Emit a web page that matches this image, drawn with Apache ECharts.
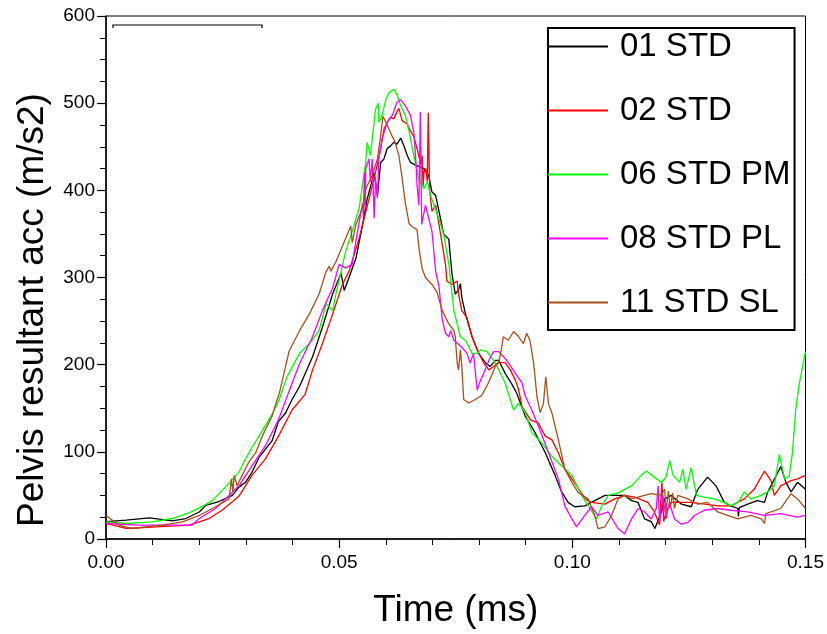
<!DOCTYPE html>
<html>
<head>
<meta charset="utf-8">
<script src="https://cdn.jsdelivr.net/npm/echarts@6/dist/echarts.min.js"></script>
<style>html,body{margin:0;padding:0;background:#fff}#c{width:827px;height:634px}</style>
</head>
<body>
<div id="c"></div>
<script>
// ---- data (time in s as on axis, value in m/s2) ----
const seriesNames = ['01 STD', '02 STD', '06 STD PM', '08 STD PL', '11 STD SL'];
const xTicks = [0, 0.05, 0.10, 0.15];
const yTicks = [0, 100, 200, 300, 400, 500, 600];

const s01 = [[0,20],[0.0043,21.6],[0.0093,24.2],[0.0114,22.7],[0.0142,20.8],[0.0171,23.5],[0.02,31],[0.0214,38.6],[0.0242,43],[0.0271,50],[0.0285,59.5],[0.0299,65],[0.0313,76.5],[0.0328,93.6],[0.0342,103],[0.0356,112.5],[0.037,135],[0.0385,144.5],[0.0399,160],[0.0415,175],[0.0443,209],[0.0464,243],[0.0486,281],[0.0504,305],[0.0511,285],[0.0536,322],[0.055,360],[0.056,390],[0.0575,420],[0.0582,394],[0.0589,432],[0.0596,436],[0.0603,448],[0.061,451],[0.0617,455],[0.0624,453],[0.0632,460],[0.0639,451],[0.0646,440],[0.0653,432],[0.0664,429],[0.0682,425],[0.0692,417],[0.0699,398],[0.0707,394],[0.0714,376],[0.0724,350],[0.0735,344],[0.0742,304],[0.0749,281],[0.0756,286],[0.076,293],[0.0763,277],[0.0771,258],[0.0785,232],[0.0799,213],[0.0814,202],[0.0824,198],[0.0835,205],[0.0842,205],[0.0856,190],[0.087,178],[0.0881,167],[0.0899,141],[0.092,122],[0.0942,99],[0.0963,73],[0.0977,54],[0.0991,42],[0.1005,37],[0.1027,38],[0.1048,44],[0.107,50],[0.1112,50],[0.1127,44],[0.1141,42],[0.1155,23],[0.1169,20],[0.1177,12],[0.1191,31],[0.1198,46],[0.1212,50],[0.1234,40],[0.1255,37],[0.1269,57],[0.129,71],[0.1308,61],[0.1326,42],[0.134,38],[0.1355,35],[0.1356,26],[0.1358,36],[0.1376,40],[0.1397,44],[0.1412,42],[0.1419,54],[0.1447,83],[0.1458,65],[0.1469,54],[0.1483,65],[0.15,57]];

const s02 = [[0,17.8],[0.0043,12.1],[0.0071,12.9],[0.0107,14],[0.0178,15.9],[0.02,19.7],[0.0221,23.5],[0.0249,33],[0.0285,49],[0.0313,73],[0.0342,92],[0.037,118],[0.0399,148],[0.0427,166],[0.0443,194],[0.0464,224],[0.0486,258],[0.0507,292],[0.0521,307],[0.0543,345],[0.0557,375],[0.0571,405],[0.0582,430],[0.0589,448],[0.0596,470],[0.0603,478],[0.061,484],[0.0617,482],[0.0624,490],[0.0628,494],[0.0635,480],[0.0646,476],[0.0653,468],[0.066,462],[0.0667,448],[0.0675,430],[0.0678,440],[0.068,405],[0.0682,421],[0.0686,425],[0.0689,410],[0.0691,489],[0.0694,400],[0.0699,376],[0.0707,383],[0.0714,361],[0.0721,338],[0.0728,315],[0.0731,296],[0.0742,292],[0.0753,296],[0.0756,281],[0.0763,262],[0.0774,254],[0.0785,232],[0.0796,217],[0.081,202],[0.0821,194],[0.0831,198],[0.0842,203],[0.0856,202],[0.0867,194],[0.0878,182],[0.0885,171],[0.0892,152],[0.091,137],[0.0927,133],[0.0942,118],[0.0956,114],[0.097,99],[0.0984,80],[0.0999,69],[0.1013,58],[0.1027,46],[0.1041,42],[0.107,40],[0.1091,46],[0.1112,50],[0.1134,48],[0.1162,42],[0.1176,31],[0.1187,16],[0.1192,65],[0.1196,20],[0.1201,31],[0.1212,42],[0.1255,42],[0.1312,38],[0.134,38],[0.1369,46],[0.139,57],[0.1412,78],[0.1426,67],[0.1433,50],[0.1447,61],[0.1469,67],[0.1483,69],[0.15,73]];

const s06 = [[0,19.7],[0.0043,17.8],[0.01,19.7],[0.0142,23.5],[0.0178,30],[0.0207,37.5],[0.0228,44],[0.0256,59.5],[0.0285,76.5],[0.0299,91.7],[0.0313,105],[0.0335,124],[0.0356,143],[0.037,158],[0.0388,186],[0.0415,213],[0.0436,224],[0.0457,239],[0.0472,270],[0.0486,262],[0.0493,281],[0.0514,330],[0.0528,353],[0.0543,380],[0.0557,432],[0.056,455],[0.0567,440],[0.0571,459],[0.0578,493],[0.0584,500],[0.0585,478],[0.0592,486],[0.06,504],[0.0607,512],[0.0617,516],[0.0624,510],[0.0632,497],[0.0642,486],[0.065,467],[0.066,440],[0.0671,413],[0.0682,402],[0.0689,410],[0.0696,394],[0.0707,378],[0.0717,362],[0.0724,350],[0.0735,316],[0.0746,262],[0.076,232],[0.0771,228],[0.0785,213],[0.0796,213],[0.0803,217],[0.0817,215],[0.0835,202],[0.0856,179],[0.0874,148],[0.0885,156],[0.0899,145],[0.0913,122],[0.0935,110],[0.0956,95],[0.0977,84],[0.0999,73],[0.102,50],[0.1038,35],[0.1052,23],[0.1063,38],[0.1077,50],[0.1098,53],[0.1127,61],[0.1148,73],[0.1159,78],[0.1176,71],[0.1191,65],[0.1201,71],[0.1209,90],[0.1216,73],[0.123,65],[0.1237,80],[0.1244,57],[0.1255,82],[0.1266,50],[0.1283,48],[0.1305,46],[0.1326,42],[0.134,38],[0.1355,42],[0.1369,54],[0.1383,46],[0.1405,50],[0.1419,54],[0.1433,61],[0.1444,97],[0.1455,69],[0.1465,72],[0.1472,99],[0.1479,149],[0.1487,179],[0.15,215]];

const s08 = [[0,17.8],[0.0071,16],[0.0142,16],[0.0185,16],[0.02,23.5],[0.0235,35],[0.0264,50],[0.0285,61],[0.0313,84],[0.0342,107],[0.037,137],[0.0393,170],[0.0415,201],[0.0443,232],[0.0464,262],[0.0486,288],[0.05,315],[0.0514,311],[0.0528,315],[0.0536,342],[0.055,385],[0.0552,370],[0.0554,420],[0.0556,380],[0.0557,425],[0.0564,436],[0.0567,410],[0.0571,436],[0.0575,368],[0.0578,413],[0.0582,391],[0.0585,436],[0.0592,459],[0.0603,478],[0.0614,486],[0.0624,501],[0.0632,504],[0.0642,497],[0.0653,486],[0.066,467],[0.0665,429],[0.0667,406],[0.0671,383],[0.0674,490],[0.0677,361],[0.0685,383],[0.0692,368],[0.0699,353],[0.0707,307],[0.0714,290],[0.0721,252],[0.0728,236],[0.0735,232],[0.0739,239],[0.0746,228],[0.0763,220],[0.0774,213],[0.0781,202],[0.0788,213],[0.0796,171],[0.0803,182],[0.081,190],[0.0821,205],[0.0831,215],[0.0842,215],[0.0853,209],[0.0863,202],[0.0878,190],[0.0892,179],[0.0899,164],[0.0913,148],[0.0927,130],[0.0949,99],[0.097,69],[0.0984,38],[0.0999,23],[0.1009,14],[0.1024,25],[0.1041,37],[0.1055,27],[0.1077,31],[0.1098,12],[0.1112,6],[0.1127,23],[0.1141,35],[0.1155,31],[0.1169,23],[0.118,35],[0.1184,61],[0.1187,19],[0.1194,50],[0.1201,23],[0.1208,42],[0.1219,23],[0.1234,17],[0.1248,19],[0.1262,27],[0.1283,33],[0.1312,35],[0.134,33],[0.1376,31],[0.1412,27],[0.1447,29],[0.1483,25],[0.15,27]];

const s11 = [[0,27],[0.0028,16],[0.0057,12],[0.0085,14],[0.0121,16],[0.0164,19.7],[0.02,27],[0.0235,37],[0.0264,46],[0.0269,69],[0.0272,54],[0.0275,73],[0.0281,61],[0.0292,73],[0.0306,88],[0.0321,99],[0.0335,118],[0.0356,141],[0.0372,168],[0.0393,216],[0.0415,239],[0.0436,258],[0.0457,281],[0.0472,307],[0.0479,313],[0.0482,307],[0.0493,318],[0.0514,345],[0.0525,359],[0.0528,340],[0.0536,361],[0.055,380],[0.0557,402],[0.0571,417],[0.0582,436],[0.0589,463],[0.0594,485],[0.0603,475],[0.0613,463],[0.062,455],[0.0628,440],[0.0635,414],[0.0642,385],[0.065,362],[0.0657,358],[0.0667,355],[0.0671,334],[0.0678,310],[0.0685,300],[0.0699,292],[0.071,283],[0.0721,262],[0.0735,247],[0.0746,239],[0.0749,232],[0.0753,202],[0.0756,194],[0.076,217],[0.0763,198],[0.0767,160],[0.0778,156],[0.0792,160],[0.0806,165],[0.082,179],[0.0835,198],[0.0842,202],[0.0849,221],[0.0852,232],[0.0863,228],[0.0874,238],[0.0885,232],[0.0895,224],[0.0902,236],[0.0909,228],[0.0917,202],[0.0924,164],[0.0931,145],[0.0938,155],[0.0943,186],[0.0949,155],[0.0956,145],[0.097,114],[0.0984,80],[0.0999,65],[0.1013,53],[0.1034,46],[0.1048,27],[0.1055,12],[0.107,14],[0.1084,27],[0.1098,46],[0.1112,50],[0.1127,46],[0.1155,50],[0.1169,52],[0.1191,50],[0.1198,57],[0.1201,31],[0.1206,55],[0.121,35],[0.1215,53],[0.1219,35],[0.1226,50],[0.1248,46],[0.1269,40],[0.129,42],[0.1312,31],[0.1333,27],[0.1355,23],[0.1383,27],[0.1405,23],[0.1412,18],[0.1415,29],[0.1447,35],[0.1469,52],[0.1483,46],[0.15,35]];

const seriesData = [s01, s02, s06, s08, s11];
const colors = ['#000000', '#ff0000', '#00ff00', '#ff00ff', '#a5511e'];

const FONT = "'Liberation Sans', Arial, Helvetica, sans-serif";
const chart = echarts.init(document.getElementById('c'), null, {renderer: 'canvas'});

chart.setOption({
  animation: false,
  backgroundColor: '#fff',
  grid: {left: 106, right: 19, top: 16, bottom: 90, show: true, borderColor: '#000', borderWidth: 1, containLabel: false},
  legend: {
    orient: 'vertical', left: 548, top: 28,
    padding: [2, 4, 11, 0],
    itemGap: 31, itemWidth: 60, itemHeight: 2, icon: 'rect',
    borderColor: '#000', borderWidth: 2, backgroundColor: '#fff',
    textStyle: {fontSize: 33, lineHeight: 32, fontFamily: FONT, color: '#000', padding: [0, 0, 0, 7]},
    data: seriesNames
  },
  xAxis: {
    type: 'value', min: 0, max: 0.15, interval: 0.05,
    name: 'Time (ms)', nameLocation: 'middle', nameGap: 53,
    nameTextStyle: {fontSize: 37, fontFamily: FONT, color: '#000'},
    axisLine: {lineStyle: {color: '#000', width: 1.5}},
    axisTick: {show: true, length: 9, lineStyle: {color: '#000', width: 1.2}},
    minorTick: {show: true, splitNumber: 5, length: 6, lineStyle: {color: '#000', width: 1}},
    axisLabel: {fontSize: 19, fontFamily: FONT, color: '#000', margin: 14,
      formatter: v => xTicks.some(t => Math.abs(t - v) < 1e-9) ? v.toFixed(2) : ''},
    splitLine: {show: false}
  },
  yAxis: {
    type: 'value', min: 0, max: 600, interval: 100,
    axisLine: {show: true, lineStyle: {color: '#000', width: 1.5}},
    axisTick: {show: true, length: 9, lineStyle: {color: '#000', width: 1.2}},
    minorTick: {show: true, splitNumber: 4, length: 6, lineStyle: {color: '#000', width: 1}},
    axisLabel: {fontSize: 19, fontFamily: FONT, color: '#000', margin: 11,
      formatter: v => yTicks.includes(v) ? String(v) : ''},
    splitLine: {show: false}
  },
  graphic: [
    {type: 'text', x: 33, y: 310, rotation: Math.PI / 2,
     style: {text: 'Pelvis resultant acc (m/s2)', font: '37px ' + FONT, fill: '#000', align: 'center', verticalAlign: 'middle'}},
    {type: 'polyline', shape: {points: [[113, 28], [113, 25], [262, 25], [262, 28]]}, style: {stroke: '#000', lineWidth: 1.2, fill: null}}
  ],
  series: seriesNames.map((n, i) => ({
    name: n, type: 'line', data: seriesData[i], showSymbol: false, symbol: 'none',
    lineStyle: {color: colors[i], width: 1.3}, itemStyle: {color: colors[i]},
    clip: true
  }))
});
</script>
</body>
</html>
